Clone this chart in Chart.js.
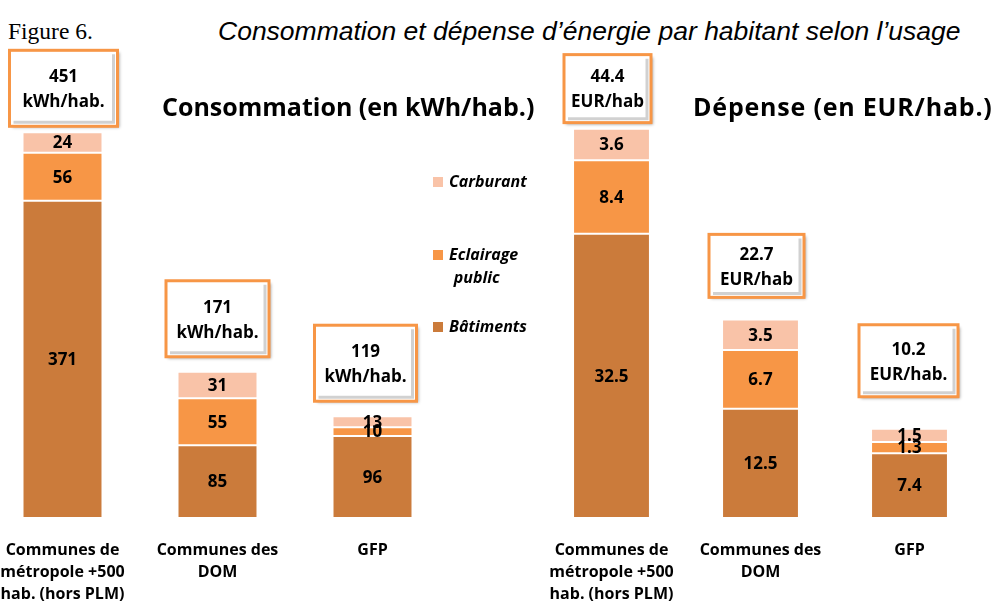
<!DOCTYPE html>
<html lang="fr">
<head>
    <meta charset="UTF-8">
    <title>Figure 6</title>
    <script src="https://cdn.jsdelivr.net/npm/chart.js"></script>
    <style>
        body {
            margin: 0;
            width: 994px;
            height: 601px;
            background: #fff;
            position: relative;
            overflow: hidden;
            font-family: "Open Sans", sans-serif;
        }
        canvas { position: absolute; top: 0; }
        #consoChart { left: -15px; }
        #depChart { left: 537px; }
        .fig-num {
            position: absolute; left: 8px; top: 18px;
            font-family: "Liberation Serif", serif; font-size: 23.5px;
        }
        .fig-title {
            position: absolute; left: 218px; top: 16px;
            font-family: "Liberation Sans", Arial, sans-serif; font-style: italic; font-size: 26.5px;
        }
        .panel-title {
            position: absolute; top: 89px;
            font-weight: bold; font-size: 25px; white-space: nowrap;
        }
        .legend {
            position: absolute; left: 433px; top: 170px; z-index: 2;
            font-weight: bold; font-style: italic; font-size: 16px;
        }
        .legend div { position: absolute; white-space: nowrap; line-height: 23px; }
        .legend span {
            display: inline-block; width: 10px; height: 10px; margin-right: 6px;
        }
    </style>
</head>
<body>
    <div class="fig-num">Figure 6.</div>
    <div class="fig-title">Consommation et dépense d’énergie par habitant selon l’usage</div>

    <canvas id="consoChart" width="465" height="601"></canvas>
    <canvas id="depChart" width="447" height="601"></canvas>

    <div class="panel-title" style="left:162px">Consommation (en kWh/hab.)</div>
    <div class="panel-title" style="left:693px; letter-spacing:0.8px">Dépense (en EUR/hab.)</div>

    <div class="legend" id="legend"></div>

    <script>
        // categories (x axis)
        const categories = [
            ['Communes de', 'métropole +500', 'hab. (hors PLM)'],
            ['Communes des', 'DOM'],
            ['GFP']
        ];
        const seriesNames = ['Bâtiments', 'Eclairage public', 'Carburant'];

        // consumption, kWh per inhabitant
        const consoBatiments = [371, 85, 96];
        const consoEclairage = [56, 55, 10];
        const consoCarburant = [24, 31, 13];
        const consoTotals = ['451', '171', '119'];
        const consoUnits = ['kWh/hab.', 'kWh/hab.', 'kWh/hab.'];

        // spending, EUR per inhabitant
        const depBatiments = [32.5, 12.5, 7.4];
        const depEclairage = [8.4, 6.7, 1.3];
        const depCarburant = [3.6, 3.5, 1.5];
        const depTotals = ['44.4', '22.7', '10.2'];
        const depUnits = ['EUR/hab', 'EUR/hab', 'EUR/hab.'];

        const colors = ['#CB7B3B', '#F79646', '#F9C3A8'];
        const fontFamily = '"Open Sans", sans-serif';

        // legend (drawn in html, order as in the picture)
        const legendRows = [
            { i: 2, top: 0, text: 'Carburant' },
            { i: 1, top: 73, text: 'Eclairage<br>&nbsp;&nbsp;&nbsp;&nbsp;&nbsp;public' },
            { i: 0, top: 145, text: 'Bâtiments' }
        ];
        document.getElementById('legend').innerHTML = legendRows.map(r =>
            `<div style="top:${r.top}px"><span style="background:${colors[r.i]}"></span>${r.text}</div>`
        ).join('');

        // value labels centred in each segment
        const segmentLabels = {
            id: 'segmentLabels',
            afterDatasetsDraw(chart) {
                const ctx = chart.ctx;
                ctx.save();
                ctx.font = 'bold 17px ' + fontFamily;
                ctx.fillStyle = '#000';
                ctx.textAlign = 'center';
                ctx.textBaseline = 'middle';
                chart.data.datasets.forEach((ds, di) => {
                    chart.getDatasetMeta(di).data.forEach((bar, i) => {
                        const v = ds.data[i];
                        ctx.fillText(String(v), bar.x, (bar.y + bar.base) / 2 + 1);
                    });
                });
                ctx.restore();
            }
        };

        // boxed totals above each stack
        const totalBoxes = {
            id: 'totalBoxes',
            afterDatasetsDraw(chart, args, opts) {
                const ctx = chart.ctx;
                const topMeta = chart.getDatasetMeta(chart.data.datasets.length - 1);
                topMeta.data.forEach((bar, i) => {
                    const [w, h] = opts.sizes[i];
                    const cx = bar.x + opts.shift[i];
                    const bottom = bar.y - opts.gaps[i];
                    const x = cx - w / 2, y = bottom - h;
                    ctx.save();
                    ctx.fillStyle = '#fff';
                    ctx.shadowColor = 'rgba(0,0,0,0.35)';
                    ctx.shadowBlur = 3;
                    ctx.shadowOffsetX = 2;
                    ctx.shadowOffsetY = 2;
                    ctx.fillRect(x, y, w, h);
                    ctx.shadowColor = 'transparent';
                    ctx.strokeStyle = 'rgba(0,0,0,0.18)';
                    ctx.lineWidth = 3;
                    ctx.beginPath();
                    ctx.moveTo(x + w - 4, y + 4);
                    ctx.lineTo(x + w - 4, y + h - 4);
                    ctx.lineTo(x + 4, y + h - 4);
                    ctx.stroke();
                    ctx.strokeStyle = '#F79646';
                    ctx.lineWidth = 3;
                    ctx.strokeRect(x, y, w, h);
                    ctx.fillStyle = '#000';
                    ctx.font = 'bold 17px ' + fontFamily;
                    ctx.textAlign = 'center';
                    ctx.textBaseline = 'middle';
                    ctx.fillText(opts.totals[i], cx, y + h / 2 - 11);
                    ctx.fillText(opts.units[i], cx, y + h / 2 + 14);
                    ctx.restore();
                });
            }
        };

        function makeChart(id, series, yMax, boxOpts) {
            new Chart(document.getElementById(id), {
                type: 'bar',
                data: {
                    labels: categories,
                    datasets: series.map((d, k) => ({
                        label: seriesNames[k],
                        data: d,
                        backgroundColor: colors[k],
                        borderColor: '#fff',
                        borderWidth: 1,
                        borderSkipped: false,
                        categoryPercentage: 1,
                        barPercentage: 0.516
                    }))
                },
                options: {
                    responsive: false,
                    animation: false,
                    layout: { padding: 0 },
                    plugins: {
                        legend: { display: false },
                        tooltip: { enabled: false },
                        totalBoxes: boxOpts
                    },
                    scales: {
                        x: {
                            stacked: true,
                            grid: { display: false, drawTicks: false },
                            border: { display: false },
                            ticks: {
                                color: '#000',
                                padding: 21,
                                maxRotation: 0,
                                autoSkip: false,
                                font: { family: fontFamily, weight: 'bold', size: 16, lineHeight: '22px' }
                            },
                            afterFit(s) {
                                s.height = 83;
                                s.paddingLeft = 0;
                                s.paddingRight = 0;
                            }
                        },
                        y: {
                            stacked: true,
                            display: false,
                            min: 0,
                            max: yMax
                        }
                    }
                },
                plugins: [segmentLabels, totalBoxes]
            });
        }

        makeChart('consoChart', [consoBatiments, consoEclairage, consoCarburant], 605.7, {
            totals: consoTotals,
            units: consoUnits,
            sizes: [[108, 76], [103, 76], [102, 76]],
            gaps: [6, 15, 15],
            shift: [1, 0, -7]
        });

        makeChart('depChart', [depBatiments, depEclairage, depCarburant], 59.2, {
            totals: depTotals,
            units: depUnits,
            sizes: [[87, 68], [95, 63], [99, 72]],
            gaps: [6, 22, 32],
            shift: [-4, -4, -1]
        });
    </script>
</body>
</html>
